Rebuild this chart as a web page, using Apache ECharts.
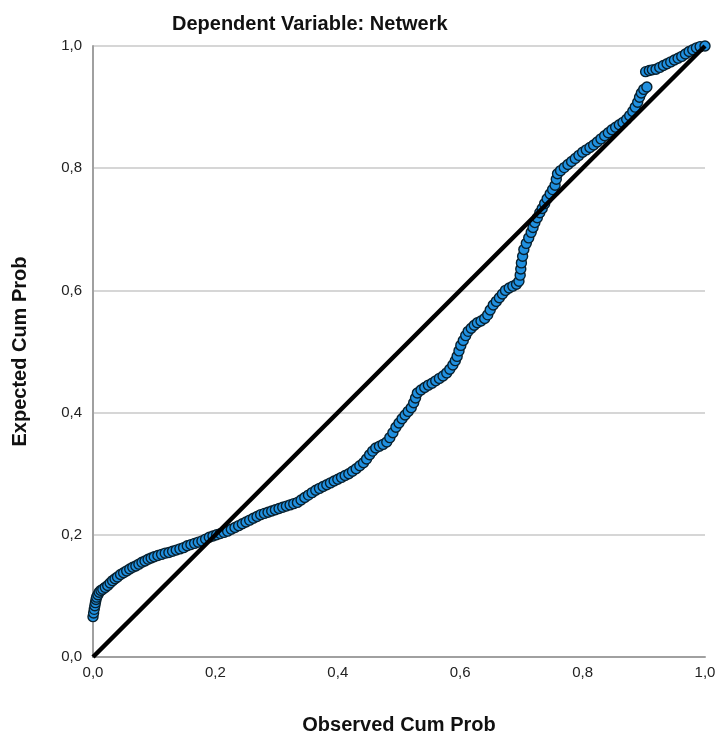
<!DOCTYPE html>
<html>
<head>
<meta charset="utf-8">
<script src="https://cdn.jsdelivr.net/npm/echarts@6/dist/echarts.min.js"></script>
<style>
html,body{margin:0;padding:0;background:#fff;}
#chart{width:720px;height:740px;}
</style>
</head>
<body>
<div id="chart"></div>
<script>
var titleText = "Dependent Variable: Netwerk";
var xAxisName = "Observed Cum Prob";
var yAxisName = "Expected Cum Prob";
var tickValues = [0, 0.2, 0.4, 0.6, 0.8, 1.0];
var diagonalLine = [[0, 0], [1, 1]];
var ppPoints = [
[0.000,0.066],[0.001,0.072],[0.002,0.078],[0.003,0.084],[0.004,0.089],[0.005,0.094],[0.006,0.098],[0.008,0.102],[0.010,0.106],[0.013,0.109],
[0.016,0.111],[0.020,0.114],[0.024,0.117],[0.028,0.121],[0.032,0.125],[0.036,0.128],[0.040,0.131],[0.045,0.135],[0.050,0.138],[0.055,0.141],
[0.060,0.144],[0.065,0.147],[0.070,0.149],[0.075,0.152],[0.080,0.155],[0.085,0.157],[0.090,0.160],[0.095,0.162],[0.100,0.164],[0.106,0.166],
[0.112,0.168],[0.118,0.170],[0.124,0.171],[0.130,0.173],[0.136,0.175],[0.142,0.177],[0.148,0.179],[0.154,0.182],[0.160,0.184],[0.166,0.186],
[0.172,0.188],[0.178,0.190],[0.184,0.193],[0.190,0.196],[0.196,0.198],[0.202,0.200],[0.208,0.202],[0.214,0.204],[0.220,0.206],[0.226,0.209],
[0.232,0.212],[0.238,0.215],[0.244,0.218],[0.250,0.221],[0.256,0.224],[0.262,0.227],[0.268,0.230],[0.274,0.233],[0.280,0.235],[0.286,0.237],
[0.292,0.239],[0.298,0.241],[0.304,0.243],[0.310,0.245],[0.316,0.247],[0.322,0.249],[0.328,0.251],[0.334,0.253],[0.340,0.257],[0.346,0.261],
[0.352,0.265],[0.358,0.269],[0.364,0.273],[0.370,0.276],[0.376,0.279],[0.382,0.282],[0.388,0.285],[0.394,0.288],[0.400,0.291],[0.406,0.294],
[0.412,0.297],[0.418,0.300],[0.424,0.304],[0.430,0.308],[0.436,0.313],[0.442,0.318],[0.447,0.324],[0.452,0.331],[0.457,0.337],[0.462,0.342],
[0.468,0.345],[0.474,0.348],[0.480,0.352],[0.485,0.359],[0.490,0.367],[0.495,0.376],[0.500,0.383],[0.505,0.390],[0.510,0.396],[0.515,0.402],
[0.520,0.408],[0.524,0.416],[0.527,0.424],[0.530,0.432],[0.536,0.437],[0.542,0.441],[0.548,0.445],[0.554,0.448],[0.560,0.452],[0.566,0.456],
[0.572,0.460],[0.578,0.465],[0.583,0.471],[0.588,0.478],[0.592,0.485],[0.595,0.492],[0.598,0.501],[0.601,0.510],[0.605,0.518],[0.609,0.526],
[0.613,0.533],[0.618,0.538],[0.623,0.543],[0.628,0.547],[0.634,0.550],[0.640,0.554],[0.645,0.560],[0.649,0.568],[0.654,0.576],[0.659,0.582],
[0.664,0.588],[0.669,0.594],[0.674,0.600],[0.680,0.604],[0.686,0.607],[0.692,0.610],[0.696,0.615],[0.698,0.625],[0.699,0.635],[0.700,0.645],
[0.702,0.656],[0.704,0.667],[0.708,0.677],[0.712,0.686],[0.716,0.695],[0.719,0.703],[0.722,0.711],[0.726,0.719],[0.730,0.727],[0.734,0.734],
[0.738,0.742],[0.742,0.750],[0.747,0.758],[0.751,0.765],[0.755,0.772],[0.757,0.782],[0.759,0.791],[0.764,0.796],[0.770,0.801],[0.776,0.806],
[0.782,0.811],[0.788,0.816],[0.794,0.821],[0.800,0.826],[0.806,0.830],[0.812,0.834],[0.818,0.838],[0.824,0.843],[0.830,0.848],[0.836,0.853],
[0.842,0.858],[0.848,0.863],[0.854,0.867],[0.860,0.871],[0.866,0.875],[0.872,0.880],[0.877,0.886],[0.882,0.893],[0.886,0.900],[0.890,0.908],
[0.893,0.916],[0.896,0.923],[0.900,0.929],[0.905,0.933],[0.903,0.958],[0.909,0.960],[0.914,0.961],[0.920,0.962],[0.926,0.965],[0.932,0.968],
[0.938,0.971],[0.944,0.974],[0.950,0.977],[0.956,0.980],[0.962,0.983],[0.968,0.987],[0.974,0.991],[0.980,0.994],[0.986,0.997],[0.992,0.999],
[1.000,1.000]
];

var chart = echarts.init(document.getElementById('chart'), null, {renderer: 'canvas'});
var fontFam = '"Liberation Sans", Arial, sans-serif';
function fmt(v){ return v.toFixed(1).replace('.', ','); }
chart.setOption({
  animation: false,
  backgroundColor: '#ffffff',
  title: {
    text: titleText,
    left: 167, top: 9,
    textStyle: {fontFamily: fontFam, fontSize: 20, fontWeight: 'bold', color: '#111'}
  },
  grid: {left: 93, right: 15, top: 46, bottom: 83, containLabel: false},
  xAxis: {
    type: 'value', min: 0, max: 1, interval: 0.2,
    name: xAxisName, nameLocation: 'middle', nameGap: 58,
    nameTextStyle: {fontFamily: fontFam, fontSize: 20, fontWeight: 'bold', color: '#111'},
    axisLine: {show: true, lineStyle: {color: '#a0a0a0', width: 2}},
    axisTick: {show: false},
    splitLine: {show: false},
    axisLabel: {fontFamily: fontFam, fontSize: 15, color: '#222', margin: 8, formatter: fmt}
  },
  yAxis: {
    type: 'value', min: 0, max: 1, interval: 0.2,
    name: yAxisName, nameLocation: 'middle', nameGap: 63, nameRotate: 90,
    nameTextStyle: {fontFamily: fontFam, fontSize: 20, fontWeight: 'bold', color: '#111'},
    axisLine: {show: true, lineStyle: {color: '#a0a0a0', width: 2}},
    axisTick: {show: false},
    splitLine: {show: true, lineStyle: {color: '#c8c8c8', width: 1.5}},
    axisLabel: {fontFamily: fontFam, fontSize: 15, color: '#222', margin: 11, formatter: fmt}
  },
  series: [
    {
      type: 'line', data: diagonalLine, showSymbol: false, symbol: 'none',
      lineStyle: {color: '#000', width: 4.5}, z: 3, silent: true
    },
    {
      type: 'scatter', data: ppPoints, symbol: 'circle', symbolSize: 10,
      itemStyle: {color: '#2090e0', borderColor: '#08202e', borderWidth: 1.4, opacity: 1},
      z: 2
    }
  ]
});
</script>
</body>
</html>
